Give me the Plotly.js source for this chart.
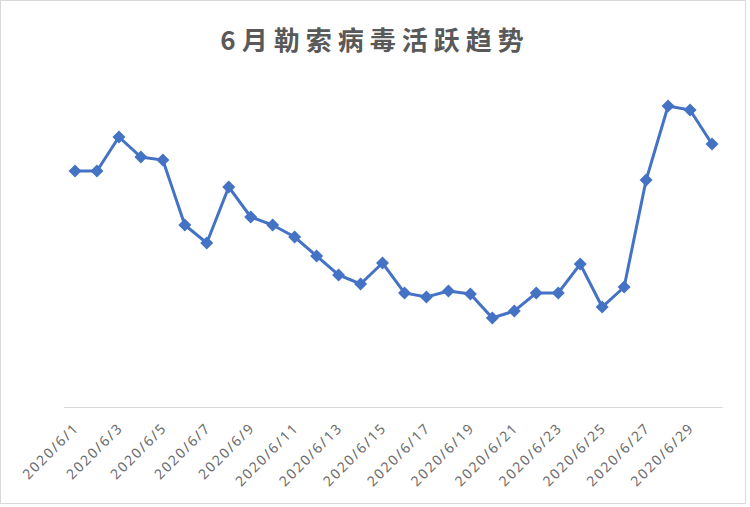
<!DOCTYPE html>
<html><head><meta charset="utf-8">
<script src="https://cdn.plot.ly/plotly-3.0.1.min.js"></script>
<style>body{margin:0;padding:0;background:#fff}#wrap{position:relative;width:750px;height:507px}#frame{position:absolute;left:0;top:0;width:744px;height:502px;border:1px solid #d9d9d9;pointer-events:none}
#chart .gtitle{letter-spacing:6px}
#chart .xtick text{letter-spacing:1.8px}</style>
</head><body><div id="wrap"><div id="chart" style="width:750px;height:507px"></div><div id="frame"></div></div>
<script>
const dates = ['2020/6/1','2020/6/2','2020/6/3','2020/6/4','2020/6/5','2020/6/6','2020/6/7','2020/6/8','2020/6/9','2020/6/10','2020/6/11','2020/6/12','2020/6/13','2020/6/14','2020/6/15','2020/6/16','2020/6/17','2020/6/18','2020/6/19','2020/6/20','2020/6/21','2020/6/22','2020/6/23','2020/6/24','2020/6/25','2020/6/26','2020/6/27','2020/6/28','2020/6/29','2020/6/30'];
const activity = [236,236,270,250,247,182,164,220,190,182,170,151,132,123,144,114,110,116,113,89,96,114,114,143,100,120,227,301,297,263];
const tickLabels = dates.filter((d,i)=>i%2===0);
const titleText = '6月勒索病毒活跃趋势';

Plotly.newPlot('chart',[{
  x: dates, y: activity, type:'scatter', mode:'lines+markers',
  line:{color:'#4472C4', width:3},
  marker:{symbol:'diamond', size:10, color:'#4472C4'},
  hoverinfo:'x+y'
}],{
  width:750, height:507,
  margin:{l:64, r:27, t:77, b:100},
  paper_bgcolor:'#fff', plot_bgcolor:'#fff',
  showlegend:false,
  title:{text:titleText, x:0.5, xanchor:'center', y:0.92, yanchor:'middle',
    font:{family:'"Noto Sans CJK SC", sans-serif', size:26, color:'#595959', weight:'bold'}},
  xaxis:{type:'category', range:[-0.5,29.5], tickmode:'array', tickvals:tickLabels, ticktext:tickLabels,
    tickangle:-45, showgrid:false, zeroline:false, showline:true, linecolor:'#d9d9d9', linewidth:1,
    ticks:'', ticklabelstandoff:6, tickfont:{family:'"Noto Sans", sans-serif', size:14, color:'#6b6b6b'}},
  yaxis:{range:[0,330], showgrid:false, zeroline:false, showline:false, showticklabels:false, ticks:''}
},{displayModeBar:false, staticPlot:true});
</script></body></html>
